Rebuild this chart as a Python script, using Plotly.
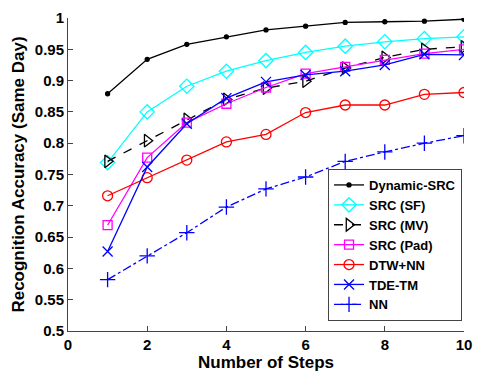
import plotly.graph_objects as go

steps = [1, 2, 3, 4, 5, 6, 7, 8, 9, 10]
dynamic_src = [0.879, 0.934, 0.958, 0.970, 0.981, 0.987, 0.993, 0.994, 0.995, 0.998]
src_sf = [0.769, 0.850, 0.891, 0.915, 0.932, 0.945, 0.955, 0.962, 0.967, 0.970]
src_mv = [0.771, 0.804, 0.838, 0.870, 0.888, 0.899, 0.920, 0.937, 0.950, 0.954]
src_pad = [0.669, 0.777, 0.833, 0.863, 0.889, 0.911, 0.922, 0.933, 0.943, 0.950]
dtw_nn = [0.716, 0.745, 0.773, 0.802, 0.814, 0.849, 0.861, 0.861, 0.878, 0.881]
tde_tm = [0.627, 0.762, 0.831, 0.872, 0.898, 0.909, 0.915, 0.925, 0.942, 0.941]
nn = [0.582, 0.620, 0.657, 0.698, 0.727, 0.746, 0.771, 0.786, 0.800, 0.812]

x_ticks = [0, 2, 4, 6, 8, 10]
y_ticks = [0.5, 0.55, 0.6, 0.65, 0.7, 0.75, 0.8, 0.85, 0.9, 0.95, 1.0]
y_ticktext = ["0.5", "0.55", "0.6", "0.65", "0.7", "0.75", "0.8", "0.85", "0.9", "0.95", "1"]

series = [
    ("Dynamic-SRC", dynamic_src, "black", "solid", "circle", 4),
    ("SRC (SF)", src_sf, "#00FFFF", "solid", "diamond-open", 11),
    ("SRC (MV)", src_mv, "black", "dash", "triangle-right-open", 11),
    ("SRC (Pad)", src_pad, "#FF00FF", "solid", "square-open", 9),
    ("DTW+NN", dtw_nn, "#FF0000", "solid", "circle-open", 10),
    ("TDE-TM", tde_tm, "#0000FF", "solid", "x-thin-open", 10),
    ("NN", nn, "#0000FF", "dashdot", "cross-thin-open", 11),
]

fig = go.Figure()
for name, vals, color, dash, sym, size in series:
    fig.add_trace(go.Scatter(
        x=steps, y=vals, name=name, mode="lines+markers",
        line=dict(color=color, width=1.3, dash=dash),
        marker=dict(symbol=sym, size=size, color=color, line=dict(color=color, width=1.3)),
    ))

font_family = "Liberation Sans, Arial, sans-serif"
fig.update_layout(
    width=481, height=376,
    margin=dict(l=68, r=9, t=12, b=45),
    paper_bgcolor="white", plot_bgcolor="white",
    font=dict(family=font_family, color="black"),
    showlegend=True,
    legend=dict(
        x=0.995, y=0.032, xanchor="right", yanchor="bottom",
        bgcolor="white", bordercolor="#444", borderwidth=1,
        font=dict(size=13, family=font_family, color="black", weight="bold"),
        tracegroupgap=0, itemwidth=30,
    ),
    xaxis=dict(
        range=[0, 10], tickvals=x_ticks, showgrid=False, zeroline=False,
        showline=True, linecolor="#444", linewidth=1, ticks="inside", ticklen=5,
        tickcolor="#444",
        tickfont=dict(size=15, weight="bold"),
        title=dict(text="Number of Steps", font=dict(size=17, weight="bold"), standoff=0),
    ),
    yaxis=dict(
        range=[0.5, 1.0], tickvals=y_ticks, ticktext=y_ticktext, showgrid=False,
        zeroline=False, showline=True, linecolor="#444", linewidth=1,
        ticks="inside", ticklen=5, tickcolor="#444",
        tickfont=dict(size=15, weight="bold"),
        title=dict(text="Recognition Accuracy (Same Day)", font=dict(size=17, weight="bold"), standoff=5),
    ),
)

fig.write_html("out.html")
